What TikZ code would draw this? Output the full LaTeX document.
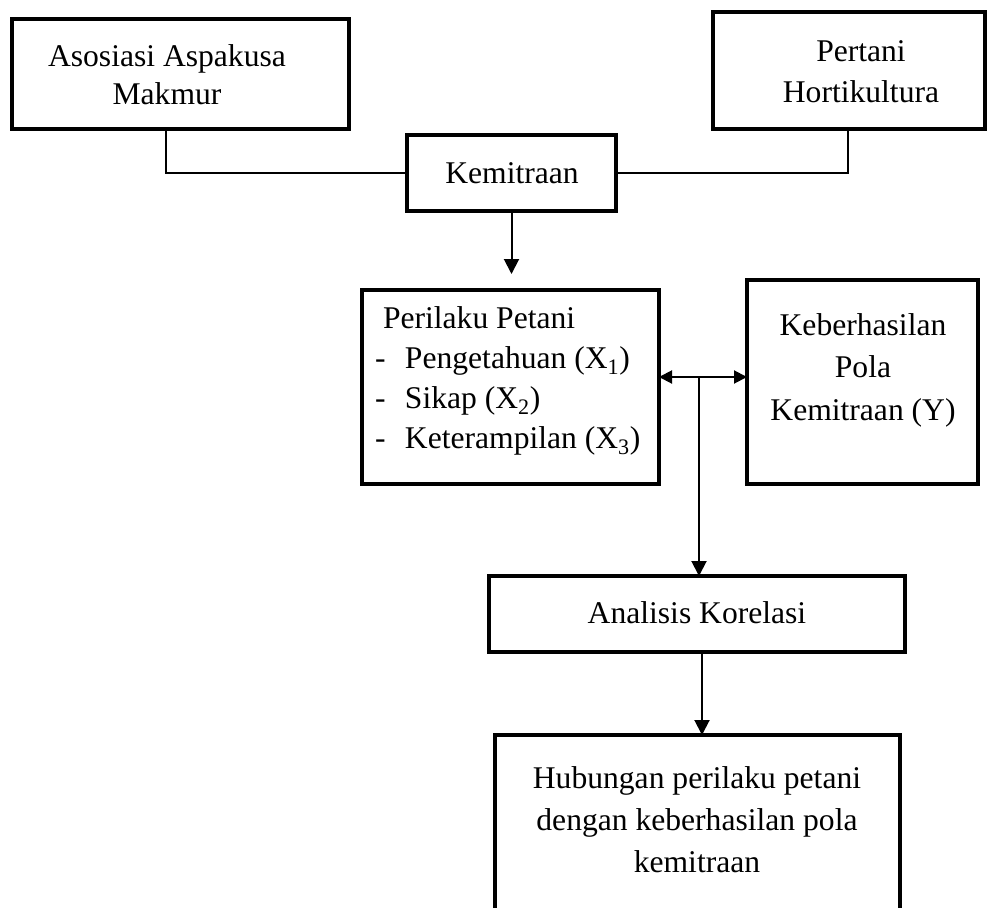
\documentclass[tikz,border=0pt]{standalone}
\usepackage{fontspec}
\setmainfont{Liberation Serif}
\usetikzlibrary{arrows.meta}
\begin{document}
\begin{tikzpicture}[x=1pt,y=-1pt,
  box/.style={draw,line width=4.5pt,rectangle,inner sep=0pt,outer sep=0pt},
  txt/.style={inner sep=0pt,outer sep=0pt,align=center,anchor=base},
  link/.style={line width=1.5pt},
  arr/.style={line width=2pt,-{Triangle[length=15pt,width=15pt]}},
  darr/.style={line width=2pt,{Triangle[length=13pt,width=13pt]}-{Triangle[length=13pt,width=13pt]}}]
\useasboundingbox (0,0) rectangle (989,908);
\clip (0,0) rectangle (989,908);
\fill[white] (0,0) rectangle (989,908);
% boxes
\node[box,minimum width=337pt,minimum height=110pt] (aso) at (180.5,74) {};
\node[box,minimum width=272pt,minimum height=117pt] (per) at (849,70.5) {};
\node[box,minimum width=209pt,minimum height=76pt] (kem) at (511.5,173) {};
\node[box,minimum width=297pt,minimum height=194pt] (pp) at (510.5,387) {};
\node[box,minimum width=231pt,minimum height=204pt] (kb) at (862.5,382) {};
\node[box,minimum width=416pt,minimum height=76pt] (ak) at (697,614) {};
\node[box,minimum width=405pt,minimum height=195pt] (hub) at (697.5,832.5) {};
% texts (base anchor = baseline of the last line)
\node[txt,font={\fontsize{31.6}{38}\selectfont}] (tAso) at (167,104) {Asosiasi Aspakusa\\Makmur};
\node[txt,font={\fontsize{31.6}{41}\selectfont}] (tPer) at (861,102) {Pertani\\Hortikultura};
\node[txt,font={\fontsize{31.6}{38}\selectfont}] (tKem) at (512,183) {Kemitraan};
\node[txt,align=left,anchor=base west,font={\fontsize{31.6}{39.7}\selectfont}] (tPP) at (375,448)
  {\hspace*{8pt}Perilaku Petani\\
   \makebox[30pt][l]{-}Pengetahuan (X\textsubscript{1})\\
   \makebox[30pt][l]{-}Sikap (X\textsubscript{2})\\
   \makebox[30pt][l]{-}Keterampilan (X\textsubscript{3})};
\node[txt,font={\fontsize{31.6}{42.5}\selectfont}] (tKB) at (863,420) {Keberhasilan\\Pola\\Kemitraan (Y)};
\node[txt,font={\fontsize{31.6}{38}\selectfont}] (tAK) at (697,623) {Analisis Korelasi};
\node[txt,font={\fontsize{31.6}{42}\selectfont}] (tHub) at (697,872) {Hubungan perilaku petani\\dengan keberhasilan pola\\kemitraan};
% connectors
\draw[link] ([xshift=-14.5pt]aso.south) |- (kem.west);
\draw[link] ([xshift=-1pt]per.south) |- (kem.east);
\draw[arr] (kem.south) -- ([yshift=16pt]kem.south |- pp.north);
\draw[darr] ([yshift=10pt]pp.east) -- ([yshift=10pt]pp.east -| kb.west);
\coordinate (j) at (699,377);
\draw[arr] (j) -- (j |- ak.north);
\draw[arr] ([xshift=5pt]ak.south) -- ([xshift=5pt]ak.south |- hub.north);
\end{tikzpicture}
\end{document}
